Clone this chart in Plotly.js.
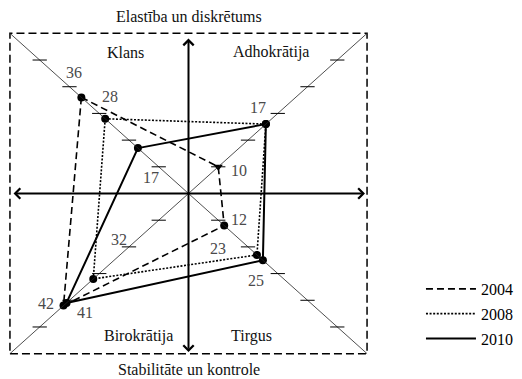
<!DOCTYPE html>
<html>
<head>
<meta charset="utf-8">
<script src="https://cdn.plot.ly/plotly-3.0.1.min.js"></script>
<style>
  body { margin: 0; background: #fff; }
  #plotDiv { width: 522px; height: 379px; }
</style>
</head>
<body>
<div id="plotDiv"></div>
<script>
// kvadranti: Klans (augšā pa kreisi), Adhokrātija, Tirgus, Birokrātija
var years = ['2004', '2008', '2010'];
// vērtības uz diagonālēm (kā zīmējumā)
var klans = [36, 28, 17];
var adhokratija = [10, 26, 26];
var tirgus = [12, 23, 25];
var birokratija = [42, 32, 41];
// skaitļi, kas rakstīti pie punktiem
var klansTxt = ['36', '28', '17'];
var adhokratijaTxt = ['10', '', '17'];
var tirgusTxt = ['12', '23', '25'];
var birokratijaTxt = ['42', '32', '41'];
var tickVals = [10, 20, 30, 40, 50];

var dashes = ['7px,4px', '2px,1.6px', 'solid'];
var widths = [1.6, 1.6, 2];

var data = [];
var markerData = [];
for (let i = 0; i < years.length; i++) {
  var xs = [-klans[i], adhokratija[i], tirgus[i], -birokratija[i], -klans[i]];
  var ys = [klans[i], adhokratija[i], -tirgus[i], -birokratija[i], klans[i]];
  data.push({
    x: xs, y: ys,
    mode: 'lines', type: 'scatter', name: years[i],
    legendgroup: years[i],
    line: { color: 'black', width: widths[i], dash: dashes[i] },
    hoverinfo: 'skip'
  });
  markerData.push({
    x: xs.slice(0, 4), y: ys.slice(0, 4),
    mode: 'markers', type: 'scatter', showlegend: false,
    marker: { size: 8, color: 'black',
      symbol: i == 0 ? ['circle', 'triangle-down', 'circle', 'circle'] : 'circle' },
    hoverinfo: 'skip'
  });
}
data = data.concat(markerData);

var shapes = [];
// rāmis
shapes.push({ type: 'rect', xref: 'x', yref: 'y', x0: -60, x1: 60, y0: -60, y1: 60,
  line: { color: 'black', width: 1.5, dash: '8px,4px' } });
// diagonāles
shapes.push({ type: 'line', xref: 'x', yref: 'y', x0: -60, y0: 60, x1: 60, y1: -60,
  line: { color: '#222', width: 0.8 } });
shapes.push({ type: 'line', xref: 'x', yref: 'y', x0: -60, y0: -60, x1: 60, y1: 60,
  line: { color: '#222', width: 0.8 } });
// iedaļas
var signs = [[-1, 1], [1, 1], [1, -1], [-1, -1]];
signs.forEach(function (s) {
  tickVals.forEach(function (v) {
    shapes.push({ type: 'line', xref: 'x', yref: 'y',
      x0: s[0] * v - 2.4, x1: s[0] * v + 2.4, y0: s[1] * v, y1: s[1] * v,
      line: { color: 'black', width: 1 } });
  });
});

var serif = 'Liberation Serif';
var annotations = [];
// asis ar bultām
annotations.push({ xref: 'x', yref: 'y', axref: 'x', ayref: 'y', x: 59.3, y: 0, ax: -59.3, ay: 0,
  text: '', showarrow: true, arrowhead: 4, startarrowhead: 4, arrowside: 'end+start',
  arrowwidth: 2, arrowsize: 1, startarrowsize: 1, arrowcolor: 'black' });
annotations.push({ xref: 'x', yref: 'y', axref: 'x', ayref: 'y', x: 0, y: -59.4, ax: 0, ay: 58.6,
  text: '', showarrow: true, arrowhead: 4, startarrowhead: 4, arrowside: 'end+start',
  arrowwidth: 2, arrowsize: 1, startarrowsize: 1, arrowcolor: 'black' });

function txt(t, x, y, ref) {
  annotations.push({ xref: ref, yref: ref == 'x' ? 'y' : 'paper', x: x, y: y, text: t,
    showarrow: false, xanchor: 'center', yanchor: 'middle',
    font: { family: serif, size: 16, color: '#111' } });
}
txt('Elastība un diskrētums', 0.5, 1.036, 'paper');
txt('Stabilitāte un kontrole', 0.5, -0.033, 'paper');
txt('Klans', -21.2, 53, 'x');
txt('Adhokrātija', 27.8, 53, 'x');
txt('Birokrātija', -16.9, -53.4, 'x');
txt('Tirgus', 21.2, -53.4, 'x');

// skaitļu nobīdes pikseļos no punkta
var shifts = {
  klans: [[-7, 25], [5, 22], [13, -29]],
  adhokratija: [[21, -4], [0, 0], [-8, 17]],
  tirgus: [[15, 6], [-39, 6], [-7, -20]],
  birokratija: [[-18, 2], [26, 39], [19, -10]]
};
function numLabel(t, x, y, sh) {
  if (t === '') return;
  annotations.push({ xref: 'x', yref: 'y', x: x, y: y, text: t, showarrow: false,
    xshift: sh[0], yshift: sh[1],
    font: { family: serif, size: 16, color: '#4a4a4a' } });
}
for (let i = 0; i < years.length; i++) {
  numLabel(klansTxt[i], -klans[i], klans[i], shifts.klans[i]);
  numLabel(adhokratijaTxt[i], adhokratija[i], adhokratija[i], shifts.adhokratija[i]);
  numLabel(tirgusTxt[i], tirgus[i], -tirgus[i], shifts.tirgus[i]);
  numLabel(birokratijaTxt[i], -birokratija[i], -birokratija[i], shifts.birokratija[i]);
}

var layout = {
  width: 522, height: 379,
  margin: { l: 4, r: 144, t: 28, b: 20 },
  paper_bgcolor: 'white', plot_bgcolor: 'white',
  showlegend: true,
  legend: { x: 1.13, y: 0.263, xanchor: 'left', yanchor: 'top',
    font: { family: serif, size: 16, color: 'black' },
    traceorder: 'grouped', tracegroupgap: 1, itemwidth: 50, bgcolor: 'rgba(0,0,0,0)' },
  xaxis: { range: [-62, 62], visible: false, fixedrange: true },
  yaxis: { range: [-62, 62], visible: false, fixedrange: true },
  shapes: shapes,
  annotations: annotations
};

Plotly.newPlot('plotDiv', data, layout, { displayModeBar: false, staticPlot: true });
</script>
</body>
</html>
